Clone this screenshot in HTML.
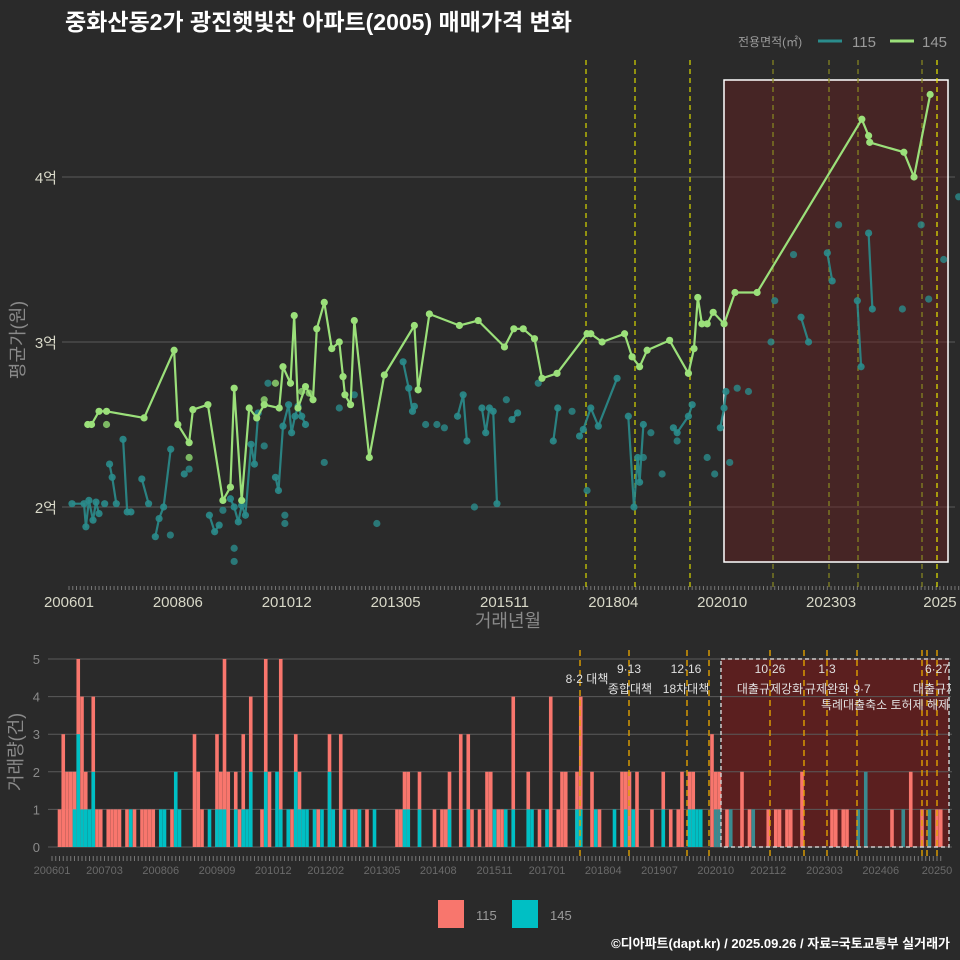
<!DOCTYPE html>
<html><head><meta charset="utf-8">
<style>
html,body{margin:0;padding:0;background:#2a2a2a;}
svg{display:block;font-family:"Liberation Sans","Noto Sans CJK KR",sans-serif;}
</style></head>
<body>
<svg id="c" width="960" height="960" viewBox="0 0 960 960" xmlns="http://www.w3.org/2000/svg">
<rect x="0" y="0" width="960" height="960" fill="#2a2a2a"/>
<text x="65" y="30" fill="#ffffff" font-size="23" font-weight="bold">중화산동2가 광진햇빛찬 아파트(2005) 매매가격 변화</text>
<g>
<text x="738" y="46" fill="#9a9a9a" font-size="12">전용면적(㎡)</text>
<line x1="818" y1="41" x2="842" y2="41" stroke="#2a8c8c" stroke-width="3"/>
<text x="852" y="47" fill="#9a9a9a" font-size="15">115</text>
<line x1="890" y1="41" x2="914" y2="41" stroke="#9be07a" stroke-width="3"/>
<text x="922" y="47" fill="#9a9a9a" font-size="15">145</text>
</g>
<g id="topPanel"></g>
<g id="botPanel"></g>
<text transform="translate(24,340) rotate(-90)" text-anchor="middle" fill="#8a8a8a" font-size="18">평균가(원)</text>
<text x="508" y="627" text-anchor="middle" fill="#8a8a8a" font-size="18">거래년월</text>
<text transform="translate(22,752) rotate(-90)" text-anchor="middle" fill="#8a8a8a" font-size="18">거래량(건)</text>
<g>
<rect x="438" y="900" width="26" height="28" fill="#F8766D"/>
<text x="476" y="920" fill="#9a9a9a" font-size="13">115</text>
<rect x="512" y="900" width="26" height="28" fill="#00BFC4"/>
<text x="550" y="920" fill="#9a9a9a" font-size="13">145</text>
</g>
<text x="950" y="948" text-anchor="end" fill="#ffffff" font-size="13" font-weight="bold">©디아파트(dapt.kr) / 2025.09.26 / 자료=국토교통부 실거래가</text>
</svg>
<script>
const yTicksTop = [2, 3, 4];
const yTickLabelsTop = ["2억", "3억", "4억"];
const xTickMonthsTop = [0, 29, 58, 87, 116, 145, 174, 203, 232];
const xTickLabelsTop = ["200601","200806","201012","201305","201511","201804","202010","202303","2025"];
const m145 = [5,6,8,10,20,28,29,32,33,37,41,43,44,46,48,50,52,56,57,59,60,61,63,65,66,68,70,72,73,73.5,75,76,80,84,92,93,96,104,109,116,118.5,121,124,126,130,138,139,142,148,150,152,154,160,165,166.5,167.5,168.6,170,171.6,174.5,177.4,183.3,211.2,213,213.3,222.4,225.1,229.4];
const v145 = [2.50,2.50,2.58,2.58,2.54,2.95,2.50,2.39,2.59,2.62,2.04,2.12,2.72,2.04,2.60,2.54,2.62,2.60,2.85,2.75,3.16,2.60,2.73,2.65,3.08,3.24,2.96,3.00,2.79,2.68,2.62,3.13,2.30,2.80,3.10,2.71,3.17,3.10,3.13,2.97,3.08,3.08,3.02,2.78,2.81,3.05,3.05,3.00,3.05,2.91,2.85,2.95,3.01,2.81,2.96,3.27,3.11,3.11,3.18,3.11,3.30,3.30,4.35,4.25,4.21,4.15,4.00,4.50];
const extra145M = [10,32,52,55,62,64];
const extra145V = [2.50,2.30,2.65,2.75,2.70,2.69];
const m115 = [0.8,4,4.5,5.3,6.4,7.2,8,null,9.5,null,10.8,11.5,12.6,null,14.4,15.5,16.5,null,19.4,21.2,null,23,24,25.2,27.1,null,30.7,null,37.4,38.8,40,null,43,44,45.1,46,47,48.5,49.4,50.4,null,55,55.8,57,58.5,59.3,60.2,61,62,63,null,89,90.5,91.5,92,null,103.5,105,106,null,110,111,112,113,114,null,118,119.5,null,129,130.2,null,136,137,139,141,146,null,149,150.5,151.5,152,153,null,161,162,165,166,null,173.5,174.5,175,null,195,197,null,202,203.3,null,210,211,null,213,214];
const v115 = [2.02,2.02,1.88,2.04,1.92,2.03,1.96,null,2.02,null,2.26,2.18,2.02,null,2.41,1.97,1.97,null,2.17,2.02,null,1.82,1.93,2.00,2.35,null,2.20,null,1.95,1.85,1.89,null,2.05,2.00,1.91,2.01,1.95,2.38,2.26,2.57,null,2.18,2.10,2.49,2.62,2.45,2.55,2.61,2.55,2.50,null,2.88,2.72,2.58,2.61,null,2.55,2.68,2.40,null,2.60,2.45,2.60,2.58,2.02,null,2.53,2.57,null,2.40,2.60,null,2.43,2.47,2.60,2.49,2.78,null,2.55,2.00,2.30,2.15,2.50,null,2.48,2.45,2.55,2.62,null,2.48,2.60,2.70,null,3.15,3.00,null,3.54,3.37,null,3.25,2.85,null,3.66,3.20];
const extra115M = [27,32,41,44,44,52,53,57.5,57.5,68,72,76,82,95,98,100,108,116.5,125,134,138,153,155,158,162,170,172,176,178,181,187,188,193,205,222,227,229,233,237];
const extra115V = [1.83,2.23,1.98,1.75,1.67,2.37,2.75,1.90,1.95,2.27,2.60,2.68,1.90,2.50,2.50,2.48,2.00,2.65,2.75,2.58,2.10,2.30,2.45,2.20,2.40,2.30,2.20,2.27,2.72,2.70,3.00,3.25,3.53,3.71,3.20,3.71,3.26,3.50,3.88];
const yTicksBot = [0,1,2,3,4,5];
const xTickMonthsBot = [0,14,29,44,59,73,88,103,118,132,147,162,177,191,206,221,236];
const xTickLabelsBot = ["200601","200703","200806","200909","201012","201202","201305","201408","201511","201701","201804","201907","202010","202112","202303","202406","20250"];
// monthly trade counts (month index since 2006-01)
const bar115Months = [2,3,4,5,6,7,8,9,11,12,13,15,16,17,18,20,22,24,25,26,27,32,38,39,40,44,45,46,47,49,50,51,53,56,57,58,61,64,65,66,71,74,77,80,81,84,92,93,94,95,98,102,104,105,106,109,111,112,114,116,117,119,120,123,127,130,133,135,136,137,140,141,144,146,152,153,154,156,160,163,165,167,168,170,171,176,177,178,180,184,186,191,193,194,196,197,200,208,209,211,212,224,229,232,236,237];
const bar115Counts = [1,3,2,2,2,5,4,2,4,1,1,1,1,1,1,1,1,1,1,1,1,1,3,2,1,3,2,5,2,2,1,3,4,1,5,2,5,1,3,2,1,3,3,1,1,1,1,1,2,2,2,1,1,1,2,3,3,1,1,2,2,1,1,4,2,1,4,1,2,2,2,4,2,1,2,2,2,2,1,2,1,1,2,2,2,3,2,2,1,2,1,1,1,1,1,1,2,1,1,1,1,1,2,1,1,1];
const bar145Months = [6,7,8,9,10,11,21,29,30,33,34,42,44,45,46,49,51,52,53,57,60,61,63,65,66,67,68,70,72,74,75,78,82,86,94,95,98,106,111,118,121,123,127,128,132,140,141,145,150,153,155,163,170,171,172,173,177,178,181,187,215,217,227,234];
const bar145Counts = [1,3,1,1,1,2,1,1,1,2,1,1,1,1,1,1,1,1,2,2,2,1,1,2,1,1,1,1,1,2,1,1,1,1,1,1,1,1,1,1,1,1,1,1,1,1,1,1,1,1,1,1,1,1,1,1,1,1,1,1,1,2,1,1];

const NS = 'http://www.w3.org/2000/svg';
const xT = m => 69 + m * 3.754;
const yT = v => 507 - (v - 2) * 165;
const xB = m => 52 + m * 3.75;
const yB = c => 847 - c * 37.6;
function mk(tag, attrs, parent) {
  const e = document.createElementNS(NS, tag);
  for (const k in attrs) e.setAttribute(k, attrs[k]);
  parent.appendChild(e);
  return e;
}
const topG = document.getElementById('topPanel');
const botG = document.getElementById('botPanel');

yTicksTop.forEach((t, i) => {
  let g = mk('line', {x1: 62, x2: 955, y1: yT(t), y2: yT(t), stroke: '#5a5a5a', 'stroke-width': 1}, topG);
  
  
  let tx = mk('text', {x: 57, y: yT(t) + 6, 'text-anchor': 'end', fill: '#d8d8c8', 'font-size': 15}, topG);
  tx.textContent = yTickLabelsTop[i];
  
  
});
for (let m = 0; m <= 237; m++) {
  let tk = mk('line', {x1: xT(m), x2: xT(m), y1: 586, y2: 590, stroke: '#777', 'stroke-width': 1}, topG);
  
  
}
xTickMonthsTop.forEach((m, i) => {
  let tx = mk('text', {x: xT(m), y: 607, 'text-anchor': 'middle', fill: '#d8d8c8', 'font-size': 15}, topG);
  tx.textContent = xTickLabelsTop[i];
  
  
});
let sh = mk('rect', {x: 724, y: 80, width: 224, height: 482, fill: 'rgba(110,30,30,0.42)', stroke: '#ffffff', 'stroke-width': 1.5}, topG);


[[586,'#d8d800'],[635,'#d8d800'],[690,'#d8d800'],[773,'#8a8a20'],[829,'#8a8a20'],[858,'#8a8a20'],[922,'#8a8a20'],[937,'#e8e800']].forEach(p => {
  let l = mk('line', {x1: p[0], x2: p[0], y1: 60, y2: 587, stroke: p[1], 'stroke-width': 1.2, 'stroke-dasharray': '5,4'}, topG);
  
  
});
function series(ms, vs, color, name) {
  let d = '', pen = false;
  ms.forEach((m, i) => {
    if (m === null) { pen = false; return; }
    d += (pen ? 'L' : 'M') + xT(m).toFixed(1) + ',' + yT(vs[i]).toFixed(1);
    pen = true;
  });
  let p = mk('path', {d: d, fill: 'none', stroke: color, 'stroke-width': 2.2, 'stroke-linejoin': 'round'}, topG);
  
  
  ms.forEach((m, i) => {
    if (m === null) return;
    let c = mk('circle', {cx: xT(m), cy: yT(vs[i]), r: 3.6, fill: color}, topG);
    
    
  });
}
function dots(ms, vs, color, name) {
  ms.forEach((m, i) => {
    let c = mk('circle', {cx: xT(m), cy: yT(vs[i]), r: 3.6, fill: color}, topG);
    
    
  });
}
dots(extra115M, extra115V, 'rgba(42,140,140,0.8)', '115');
series(m115, v115, 'rgba(42,140,140,0.9)', '115');
dots(extra145M, extra145V, 'rgba(140,210,110,0.85)', '145');
series(m145, v145, '#9be07a', '145');

// bottom panel
let sh2 = mk('rect', {x: 721, y: 659, width: 228, height: 188, fill: 'rgba(140,20,20,0.5)'}, botG);


yTicksBot.forEach(t => {
  let g = mk('line', {x1: 48, x2: 952, y1: yB(t), y2: yB(t), stroke: '#5a5a5a', 'stroke-width': 1}, botG);
  
  
  let tx = mk('text', {x: 40, y: yB(t) + 5, 'text-anchor': 'end', fill: '#8a8a8a', 'font-size': 13}, botG);
  tx.textContent = t;
  
  
});
bar115Months.forEach((m, i) => {
  const c = bar115Counts[i];
  let r = mk('rect', {x: xB(m) - 1.8, y: yB(c), width: 3.6, height: yB(0) - yB(c), fill: '#F8766D'}, botG);
  
  
});
bar145Months.forEach((m, i) => {
  const c = bar145Counts[i];
  let r = mk('rect', {x: xB(m) - 1.8, y: yB(c), width: 3.6, height: yB(0) - yB(c), fill: m >= 177 ? '#3a8a90' : '#00BFC4'}, botG);
  
  
});
let sh2b = mk('rect', {x: 721, y: 659, width: 228, height: 188, fill: 'none', stroke: '#cccccc', 'stroke-width': 1.5, 'stroke-dasharray': '4,3'}, botG);


for (let m = 0; m <= 237; m++) {
  let tk = mk('line', {x1: xB(m), x2: xB(m), y1: 856, y2: 861, stroke: '#777', 'stroke-width': 1}, botG);
  
  
}
xTickMonthsBot.forEach((m, i) => {
  let tx = mk('text', {x: xB(m), y: 874, 'text-anchor': 'middle', fill: '#6a6a6a', 'font-size': 11}, botG);
  tx.textContent = xTickLabelsBot[i];
  
  
});
[580,629,687,709,770,804,827,857,922,927,937].forEach(x => {
  let l = mk('line', {x1: x, x2: x, y1: 650, y2: 858, stroke: '#e0a000', 'stroke-width': 1.4, 'stroke-dasharray': '6,4'}, botG);
  
  
});
[[587,683,'8·2 대책'],[629,673,'9·13'],[630,693,'종합대책'],[686,673,'12·16'],[686,693,'18차대책'],[770,673,'10·26'],[770,693,'대출규제강화'],[827,673,'1·3'],[827,693,'규제완화'],[862,693,'9·7'],[885,709,'특례대출축소 토허제 해제'],[937,673,'6·27'],[935,693,'대출규제']].forEach(a => {
  let t = mk('text', {x: a[0], y: a[1], 'text-anchor': 'middle', fill: '#e0e0e0', 'font-size': 12}, botG);
  t.textContent = a[2];
  
  
});
let clip = mk('rect', {x: 951, y: 640, width: 9, height: 80, fill: '#2a2a2a'}, botG);


</script>
</body></html>
